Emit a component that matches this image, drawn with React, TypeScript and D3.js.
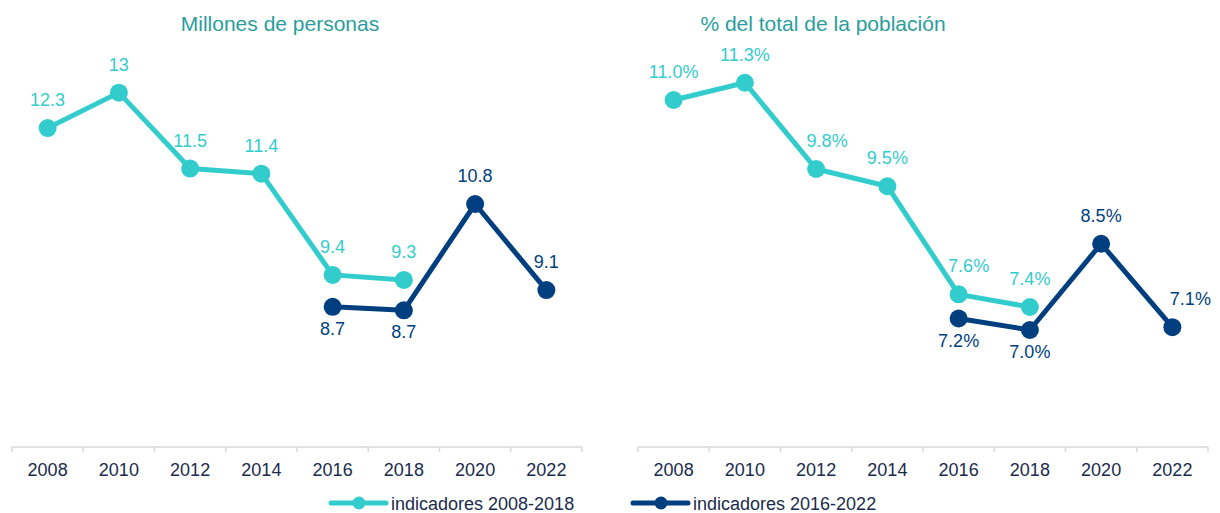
import { useEffect, useRef } from "react";
import * as d3 from "d3";

const years = ["2008", "2010", "2012", "2014", "2016", "2018", "2020", "2022"];

// left panel: millones de personas
const personasYearsA = ["2008", "2010", "2012", "2014", "2016", "2018"];
const personasA = [12.3, 13, 11.5, 11.4, 9.4, 9.3];
const personasLabelsA = ["12.3", "13", "11.5", "11.4", "9.4", "9.3"];
const personasYearsB = ["2016", "2018", "2020", "2022"];
const personasB = [8.77, 8.7, 10.8, 9.1];
const personasLabelsB = ["8.7", "8.7", "10.8", "9.1"];

// right panel: % del total de la población
const pctA = [11.0, 11.3, 9.8, 9.5, 7.62, 7.4];
const pctLabelsA = ["11.0%", "11.3%", "9.8%", "9.5%", "7.6%", "7.4%"];
const pctB = [7.2, 7.0, 8.5, 7.05];
const pctLabelsB = ["7.2%", "7.0%", "8.5%", "7.1%"];

const TEAL = "#33cccc";
const NAVY = "#003f7f";
const TITLE = "#2a9e9b";
const TICK = "#1b2b4d";
const FONT = "'Liberation Sans', Arial, sans-serif";

export default function App() {
  const svgRef = useRef<SVGSVGElement | null>(null);
  const width = 1220;
  const height = 513;

  useEffect(() => {
    document.body.style.margin = "0";
    const svg = d3.select(svgRef.current);
    svg.selectAll("*").remove();
    svg.style("font-family", FONT);

    const axisY = 447;

    const panels = [
      {
        title: "Millones de personas",
        titleX: 280,
        x0: 12,
        x1: 582,
        domain: [6, 14],
        range: [447, 42],
        a: personasA,
        la: personasLabelsA,
        aDx: [0, 0, 0, 0, 0, 0],
        b: personasB,
        lb: personasLabelsB,
        bDx: [0, 0, 0, 0],
      },
      {
        title: "% del total de la población",
        titleX: 823,
        x0: 638,
        x1: 1208,
        domain: [5, 12],
        range: [445, 42.5],
        a: pctA,
        la: pctLabelsA,
        aDx: [0, 0, 11, 0, 10, 0],
        b: pctB,
        lb: pctLabelsB,
        bDx: [0, 0, 0, 18],
      },
    ];
    const bBelow = [true, true, false, false];

    panels.forEach((p) => {
      const x = d3.scaleBand().domain(years).range([p.x0, p.x1]);
      const y = d3.scaleLinear().domain(p.domain).range(p.range);
      const g = svg.append("g");

      // title
      g.append("text")
        .attr("x", p.titleX)
        .attr("y", 31)
        .attr("text-anchor", "middle")
        .attr("fill", TITLE)
        .style("font-size", "21px")
        .text(p.title);

      // axis
      g.append("line")
        .attr("x1", p.x0)
        .attr("x2", p.x1)
        .attr("y1", axisY)
        .attr("y2", axisY)
        .attr("stroke", "#d9d9d9")
        .attr("stroke-width", 1.5);
      const bounds = years.map((d) => x(d) as number).concat([p.x1]);
      g.selectAll(".tk")
        .data(bounds)
        .enter()
        .append("line")
        .attr("x1", (d) => d)
        .attr("x2", (d) => d)
        .attr("y1", axisY)
        .attr("y2", axisY + 5)
        .attr("stroke", "#d9d9d9")
        .attr("stroke-width", 1.5);
      g.selectAll(".yl")
        .data(years)
        .enter()
        .append("text")
        .attr("x", (d) => (x(d) as number) + x.bandwidth() / 2)
        .attr("y", 476)
        .attr("text-anchor", "middle")
        .attr("fill", TICK)
        .style("font-size", "18px")
        .text((d) => d);

      const cx = (d: string) => (x(d) as number) + x.bandwidth() / 2;
      const line = d3
        .line<[string, number]>()
        .x((d) => cx(d[0]))
        .y((d) => y(d[1]));

      const seriesA: [string, number][] = personasYearsA.map((yr, i) => [yr, p.a[i]]);
      const seriesB: [string, number][] = personasYearsB.map((yr, i) => [yr, p.b[i]]);

      const drawSeries = (data: [string, number][], color: string) => {
        g.append("path")
          .datum(data)
          .attr("d", line)
          .attr("fill", "none")
          .attr("stroke", color)
          .attr("stroke-width", 5)
          .attr("stroke-linejoin", "round");
        g.selectAll(null)
          .data(data)
          .enter()
          .append("circle")
          .attr("cx", (d) => cx(d[0]))
          .attr("cy", (d) => y(d[1]))
          .attr("r", 9)
          .attr("fill", color);
      };

      drawSeries(seriesA, TEAL);
      drawSeries(seriesB, NAVY);

      g.selectAll(null)
        .data(seriesA)
        .enter()
        .append("text")
        .attr("x", (d, i) => cx(d[0]) + p.aDx[i])
        .attr("y", (d) => y(d[1]) - 22)
        .attr("text-anchor", "middle")
        .attr("fill", TEAL)
        .style("font-size", "18px")
        .text((d, i) => p.la[i]);

      g.selectAll(null)
        .data(seriesB)
        .enter()
        .append("text")
        .attr("x", (d, i) => cx(d[0]) + p.bDx[i])
        .attr("y", (d, i) => y(d[1]) + (bBelow[i] ? 28 : -22))
        .attr("text-anchor", "middle")
        .attr("fill", NAVY)
        .style("font-size", "18px")
        .text((d, i) => p.lb[i]);
    });

    // Legend
    const legendItems = [
      { label: "indicadores 2008-2018", color: TEAL, x: 331 },
      { label: "indicadores 2016-2022", color: NAVY, x: 633 },
    ];
    legendItems.forEach((it) => {
      const lg = svg.append("g").attr("transform", `translate(${it.x},503)`);
      lg.append("line")
        .attr("x1", 0)
        .attr("x2", 55)
        .attr("stroke", it.color)
        .attr("stroke-width", 5)
        .attr("stroke-linecap", "round");
      lg.append("circle").attr("cx", 28).attr("r", 6.5).attr("fill", it.color);
      lg.append("text")
        .attr("x", 60)
        .attr("y", 6.5)
        .attr("fill", TICK)
        .style("font-size", "18px")
        .text(it.label);
    });
  }, []);

  return <svg ref={svgRef} width={width} height={height} style={{ display: "block" }} />;
}
